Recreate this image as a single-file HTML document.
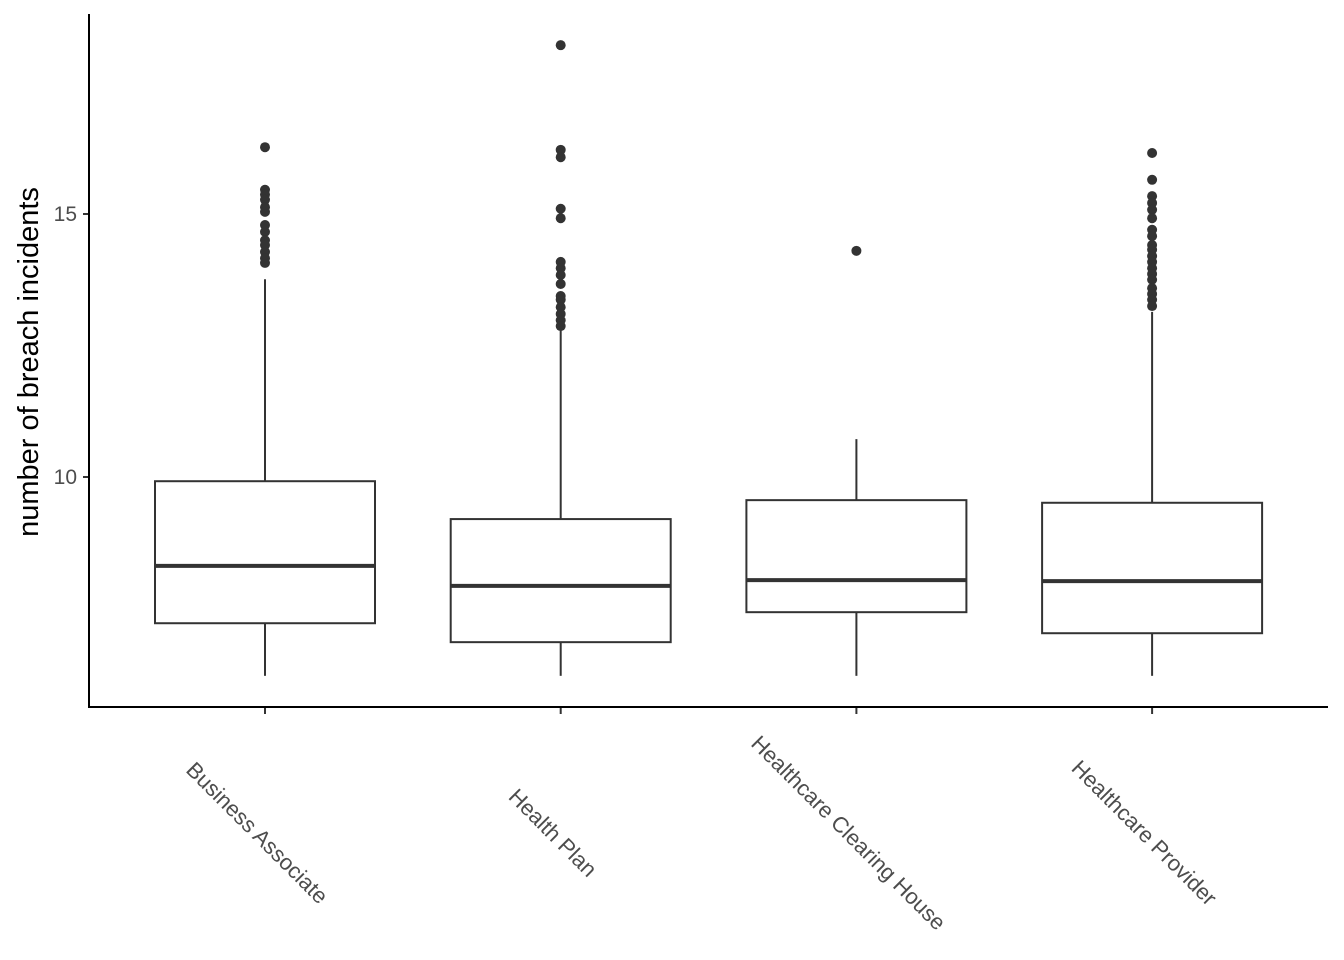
<!DOCTYPE html>
<html><head><meta charset="utf-8"><style>
html,body{margin:0;padding:0;background:#fff;}
svg{display:block;font-family:"Liberation Sans",Arial,sans-serif;}
</style></head><body>
<svg id="chart" width="1344" height="960" viewBox="0 0 1344 960"></svg>
<script>
const categories = ["Business Associate","Health Plan","Healthcare Clearing House","Healthcare Provider"];
const q1 = [7.22, 6.86, 7.43, 7.03];
const medians = [8.31, 7.93, 8.04, 8.02];
const q3 = [9.92, 9.20, 9.56, 9.51];
const whiskerLow = [6.22, 6.22, 6.22, 6.22];
const whiskerHigh = [13.76, 12.79, 10.72, 13.14];
const outliers = [
  [16.27,15.46,15.37,15.27,15.13,15.04,14.79,14.66,14.5,14.41,14.28,14.16,14.07],
  [18.21,16.22,16.08,15.10,14.92,14.09,13.97,13.84,13.67,13.44,13.37,13.23,13.1,12.98,12.87],
  [14.3],
  [16.16,15.65,15.34,15.21,15.08,14.92,14.7,14.58,14.41,14.32,14.2,14.09,13.97,13.86,13.75,13.59,13.48,13.37,13.25]
];
const yTicks = [10, 15];

const NS = "http://www.w3.org/2000/svg";
const svg = document.getElementById('chart');
const y = v => 477 - (v - 10) * 52.6;
const x = i => 265 + i * 295.7;
const halfW = 110;
function mk(tag, attrs, parent) {
  const e = document.createElementNS(NS, tag);
  for (const k in attrs) e.setAttribute(k, attrs[k]);
  (parent || svg).appendChild(e);
  return e;
}
const col = "#333333";
categories.forEach((c, i) => {
  const g = mk('g', {});
  
  
  const cx = x(i);
  mk('line', {x1:cx, x2:cx, y1:y(q3[i]), y2:y(whiskerHigh[i]), stroke:col, 'stroke-width':2}, g);
  mk('line', {x1:cx, x2:cx, y1:y(q1[i]), y2:y(whiskerLow[i]), stroke:col, 'stroke-width':2}, g);
  mk('rect', {x:cx-halfW, y:y(q3[i]), width:2*halfW, height:y(q1[i])-y(q3[i]), fill:'#fff', stroke:col, 'stroke-width':2}, g);
  mk('line', {x1:cx-halfW, x2:cx+halfW, y1:y(medians[i]), y2:y(medians[i]), stroke:col, 'stroke-width':4}, g);
  outliers[i].forEach(v => {
    const p = mk('circle', {cx:cx, cy:y(v), r:5, fill:col}, g);
    
    
  });
  const t = mk('line', {x1:cx, x2:cx, y1:707, y2:714, stroke:col, 'stroke-width':2});
  
  
  const lx = cx - 9, ly = 834;
  const lbl = mk('text', {x:lx, y:ly, 'text-anchor':'middle', 'dominant-baseline':'middle', 'font-size':22, fill:'#4d4d4d', transform:`rotate(45 ${lx} ${ly})`});
  lbl.textContent = c;
  
  
});
yTicks.forEach(v => {
  const t = mk('line', {x1:83, x2:89, y1:y(v), y2:y(v), stroke:col, 'stroke-width':2});
  
  
  const l = mk('text', {x:77, y:y(v)+7, 'text-anchor':'end', 'font-size':21, fill:'#4d4d4d'});
  l.textContent = v;
  
  
});
const ax = mk('line', {x1:89, x2:1328, y1:707, y2:707, stroke:'#000', 'stroke-width':2});


const ay = mk('line', {x1:89, x2:89, y1:14, y2:708, stroke:'#000', 'stroke-width':2});


const yt = mk('text', {x:38, y:362, 'text-anchor':'middle', 'font-size':29, fill:'#000', transform:'rotate(-90 38 362)'});
yt.textContent = 'number of breach incidents';


</script>
</body></html>
